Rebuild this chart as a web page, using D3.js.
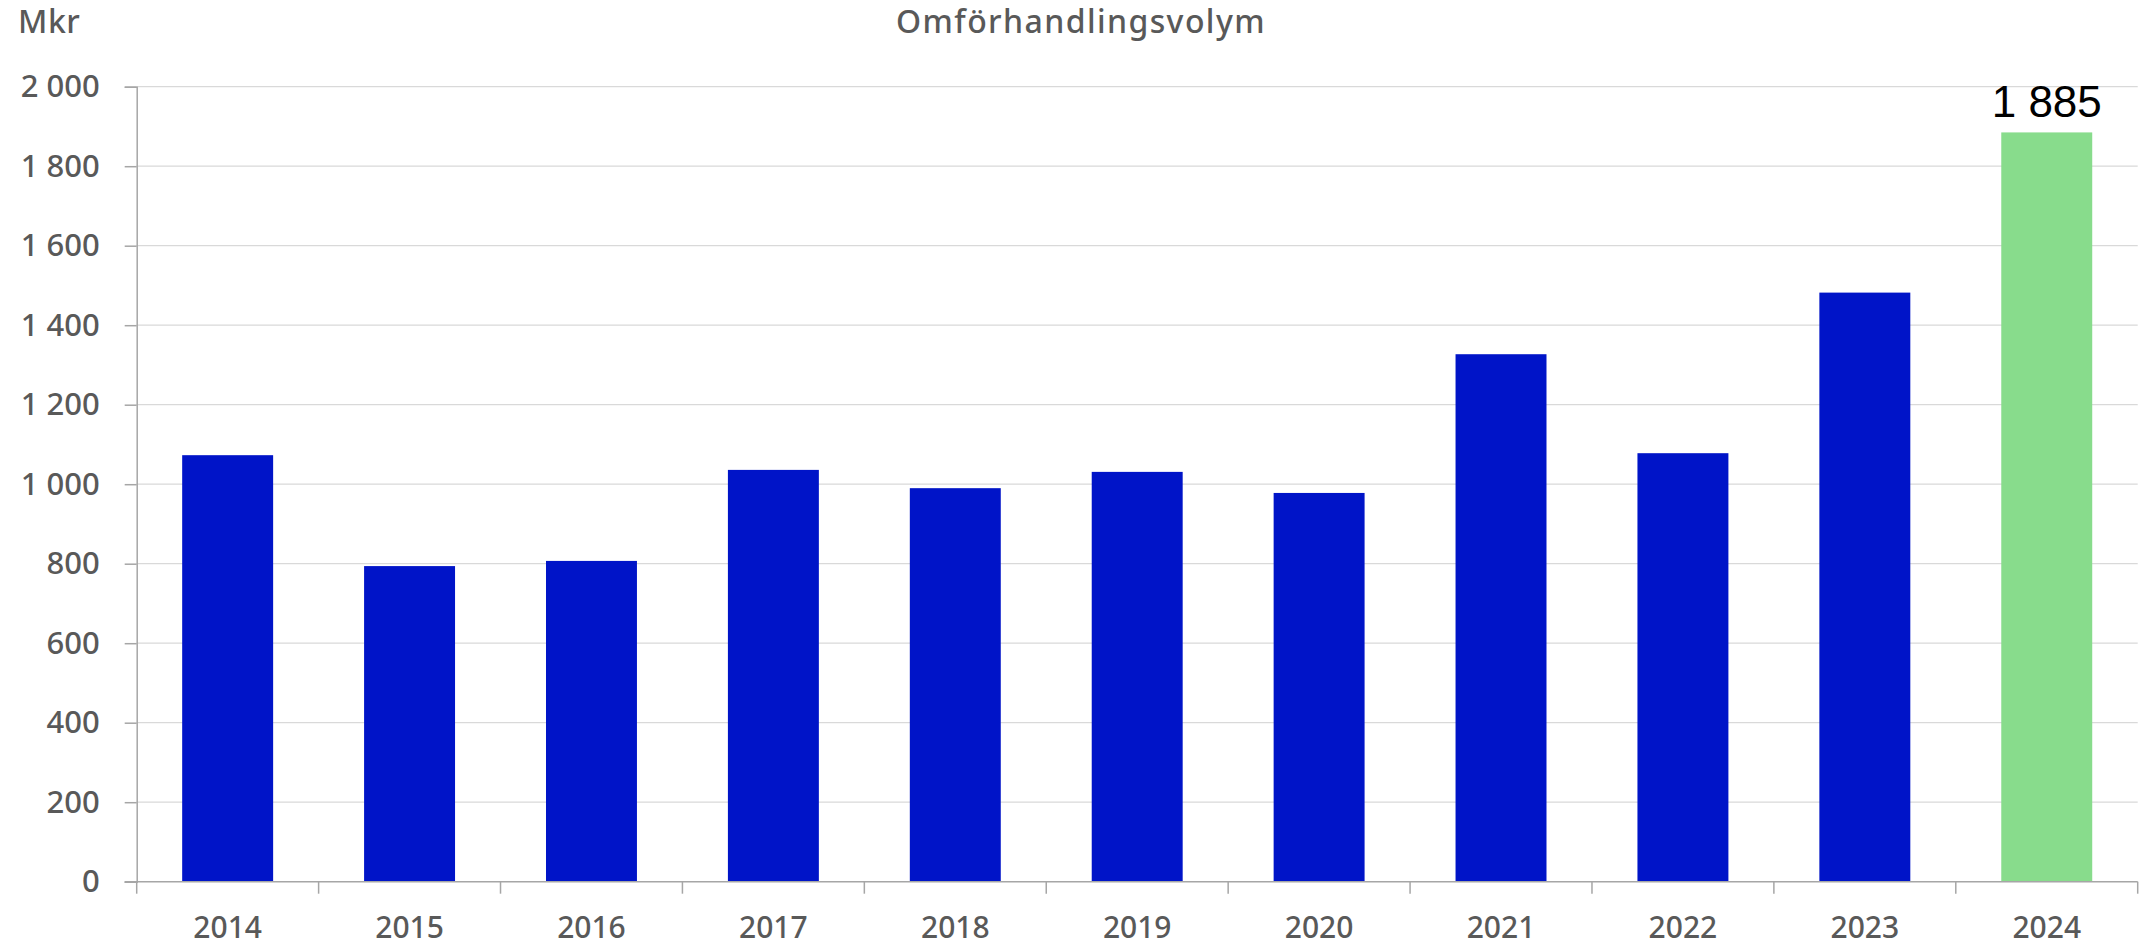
<!DOCTYPE html>
<html>
<head>
<meta charset="utf-8">
<script src="https://cdn.jsdelivr.net/npm/d3@7"></script>
<style>
  html, body { margin: 0; padding: 0; background: #ffffff; }
  svg { display: block; }
</style>
</head>
<body>
<svg id="chart" width="2141" height="948"></svg>
<script>
// Renegotiation volume per year, MSEK
const years = ["2014", "2015", "2016", "2017", "2018", "2019", "2020", "2021", "2022", "2023", "2024"];
const volumes = [1073, 794, 807, 1036, 990, 1031, 978, 1327, 1078, 1482, 1885];
const yTicks = [0, 200, 400, 600, 800, 1000, 1200, 1400, 1600, 1800, 2000];
const highlightYear = "2024";
const titleText = "Omförhandlingsvolym";
const unitText = "Mkr";

const W = 2141, H = 948;
const margin = { left: 136.7, right: 3.3, top: 86.7, bottom: 66.3 };
const svg = d3.select("#chart");

const fontFamily = "'Noto Sans', 'Lato', sans-serif";
const textGray = "#595959";

const sv = d3.formatLocale({ decimal: ",", thousands: "\u00a0", grouping: [3], currency: ["", " kr"] });
const fmt = sv.format(",d");

const x = d3.scaleBand()
  .domain(years)
  .range([margin.left, W - margin.right])
  .paddingInner(0.5)
  .paddingOuter(0.25);

// category slots without padding, used for the boundary ticks and labels
const xSlot = d3.scaleBand()
  .domain(years)
  .range([margin.left, W - margin.right])
  .padding(0);

const y = d3.scaleLinear()
  .domain([0, 2000])
  .range([H - margin.bottom, margin.top]);

// horizontal gridlines
svg.append("g")
  .selectAll("line")
  .data(yTicks.filter(d => d > 0))
  .join("line")
  .attr("x1", margin.left)
  .attr("x2", W - margin.right)
  .attr("y1", d => y(d))
  .attr("y2", d => y(d))
  .attr("stroke", "#d9d9d9")
  .attr("stroke-width", 1.2);

// bars
svg.append("g")
  .selectAll("rect")
  .data(years.map((yr, i) => ({ yr, v: volumes[i] })))
  .join("rect")
  .attr("x", d => x(d.yr))
  .attr("width", x.bandwidth())
  .attr("y", d => y(d.v))
  .attr("height", d => y(0) - y(d.v))
  .attr("fill", d => d.yr === highlightYear ? "#88dc8c" : "#0014c8");

// value label on the highlighted bar
const hi = years.indexOf(highlightYear);
svg.append("text")
  .attr("x", x(highlightYear) + x.bandwidth() / 2)
  .attr("y", y(volumes[hi]) - 15)
  .attr("text-anchor", "middle")
  .attr("font-family", "'Liberation Sans', Arial, sans-serif")
  .attr("font-size", 44)
  .attr("fill", "#000000")
  .text(fmt(volumes[hi]));

// y axis
const yAxis = d3.axisLeft(y)
  .tickValues(yTicks)
  .tickFormat(fmt)
  .tickSize(12)
  .tickPadding(25);

const gy = svg.append("g")
  .attr("transform", `translate(${margin.left},0)`)
  .call(yAxis);
gy.select(".domain").attr("stroke", "#a6a6a6").attr("stroke-width", 1.5);
gy.selectAll(".tick line").attr("stroke", "#a6a6a6").attr("stroke-width", 1.5);
gy.selectAll(".tick text")
  .attr("font-family", fontFamily)
  .attr("font-size", 31)
  .attr("font-weight", 500)
  .attr("fill", textGray);

// x axis: baseline, boundary ticks, centred labels
const gx = svg.append("g")
  .attr("transform", `translate(0,${y(0)})`);
gx.append("line")
  .attr("x1", margin.left - 12)
  .attr("x2", W - margin.right)
  .attr("stroke", "#a6a6a6")
  .attr("stroke-width", 1.5);
const bounds = years.map(yr => xSlot(yr)).concat([xSlot(years[years.length - 1]) + xSlot.bandwidth()]);
gx.selectAll("line.bound")
  .data(bounds)
  .join("line")
  .attr("class", "bound")
  .attr("x1", d => d)
  .attr("x2", d => d)
  .attr("y1", 0)
  .attr("y2", 12)
  .attr("stroke", "#a6a6a6")
  .attr("stroke-width", 1.5);
gx.selectAll("text")
  .data(years)
  .join("text")
  .attr("x", d => xSlot(d) + xSlot.bandwidth() / 2)
  .attr("y", 56)
  .attr("text-anchor", "middle")
  .attr("font-family", fontFamily)
  .attr("font-size", 30)
  .attr("font-weight", 500)
  .attr("fill", textGray)
  .text(d => d);

// title and unit
svg.append("text")
  .attr("x", 1081)
  .attr("y", 33)
  .attr("text-anchor", "middle")
  .attr("font-family", fontFamily)
  .attr("font-size", 32)
  .attr("font-weight", 500)
  .attr("letter-spacing", 1.4)
  .attr("fill", textGray)
  .text(titleText);

svg.append("text")
  .attr("x", 18)
  .attr("y", 33)
  .attr("font-family", fontFamily)
  .attr("font-size", 32)
  .attr("font-weight", 500)
  .attr("letter-spacing", 0.5)
  .attr("fill", textGray)
  .text(unitText);
</script>
</body>
</html>
